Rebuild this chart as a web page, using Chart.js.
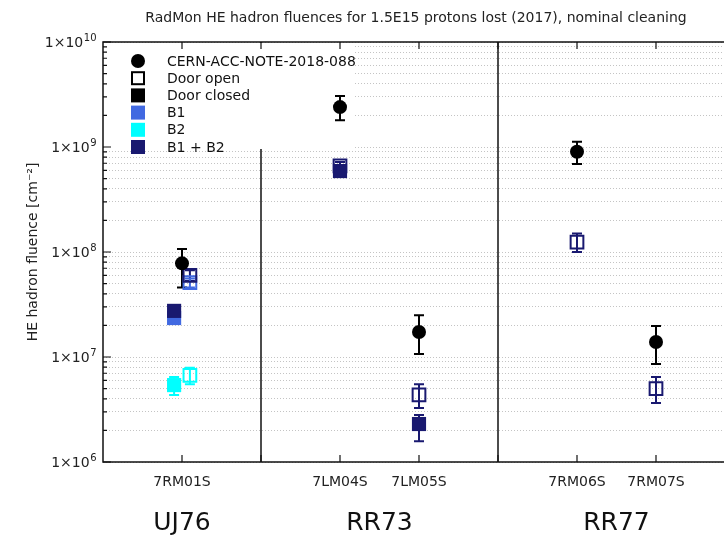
<!DOCTYPE html>
<html>
<head>
<meta charset="utf-8">
<script src="https://cdn.jsdelivr.net/npm/chart.js@4.4.0/dist/chart.umd.min.js"></script>
<style>
    html, body { margin: 0; padding: 0; background: #fff; overflow: hidden; }
    #wrap { position: relative; width: 832px; height: 536px; }
</style>
</head>
<body>
<div id="wrap"><canvas id="myChart"></canvas></div>
<script>
// x positions of the RadMon stations, and the areas they belong to
var stationPos = [1, 2, 3, 4, 5, 6, 7];
var stationLabels = ['7RM01S', '', '7LM04S', '7LM05S', '', '7RM06S', '7RM07S'];
var areaPos = [1, 3.5, 6.5];
var areaLabels = ['UJ76', 'RR73', 'RR77'];
var dividerPos = [2, 5];
var yMajorTicks = [1e6, 1e7, 1e8, 1e9, 1e10];
var yTickExp = ['6', '7', '8', '9', '10'];

var chartTitle = 'RadMon HE hadron fluences for 1.5E15 protons lost (2017), nominal cleaning';

// CERN-ACC-NOTE-2018-088
var noteX = [1, 3, 4, 6, 7];
var noteY = [7.8e7, 2.4e9, 1.73e7, 9.0e8, 1.39e7];
var noteLo = [4.6e7, 1.8e9, 1.07e7, 6.9e8, 8.6e6];
var noteHi = [1.07e8, 3.06e9, 2.5e7, 1.12e9, 1.97e7];

// door open
var openB1X = [1.1];
var openB1Y = [5.1e7];
var openB1Lo = [4.6e7];
var openB1Hi = [5.6e7];
var openB2X = [1.1];
var openB2Y = [6.7e6];
var openB2Lo = [5.5e6];
var openB2Hi = [7.9e6];
var openB12X = [1.1, 3, 4, 6, 7];
var openB12Y = [6.0e7, 6.6e8, 4.35e6, 1.24e8, 5.0e6];
var openB12Lo = [5.3e7, 6.0e8, 3.27e6, 1.0e8, 3.65e6];
var openB12Hi = [6.7e7, 7.2e8, 5.5e6, 1.5e8, 6.45e6];

// door closed
var closedB1X = [0.9];
var closedB1Y = [2.35e7];
var closedB1Lo = [2.1e7];
var closedB1Hi = [2.6e7];
var closedB2X = [0.9];
var closedB2Y = [5.4e6];
var closedB2Lo = [4.35e6];
var closedB2Hi = [6.45e6];
var closedB12X = [0.9, 3, 4];
var closedB12Y = [2.75e7, 5.9e8, 2.3e6];
var closedB12Lo = [2.45e7, 5.4e8, 1.58e6];
var closedB12Hi = [3.05e7, 6.4e8, 2.8e6];

var legendLabels = ['CERN-ACC-NOTE-2018-088', 'Door open', 'Door closed', 'B1', 'B2', 'B1 + B2'];

var B1 = '#4169e1', B2 = '#00ffff', B12 = '#191970';

function pts(xs, ys) {
    return xs.map(function (x, i) { return { x: x, y: ys[i] }; });
}

function openSet(label, xs, ys, lo, hi, col) {
    return {
        label: label, data: pts(xs, ys), errLo: lo, errHi: hi, errColor: col,
        pointStyle: 'rect', pointRadius: 9, pointHoverRadius: 9,
        backgroundColor: 'rgba(0,0,0,0)', borderColor: col, borderWidth: 2
    };
}

function closedSet(label, xs, ys, lo, hi, col) {
    return {
        label: label, data: pts(xs, ys), errLo: lo, errHi: hi, errColor: col,
        pointStyle: 'rect', pointRadius: 10, pointHoverRadius: 10,
        backgroundColor: col, borderColor: col, borderWidth: 0
    };
}

var frameAndExtras = {
    id: 'frameAndExtras',
    beforeDatasetsDraw: function (chart) {
        var ctx = chart.ctx, ca = chart.chartArea;
        var xs = chart.scales.x, ys = chart.scales.y;
        ctx.save();
        // area dividers
        ctx.strokeStyle = '#111';
        ctx.lineWidth = 1.5;
        dividerPos.forEach(function (d) {
            var px = xs.getPixelForValue(d);
            ctx.beginPath();
            ctx.moveTo(px, ca.top);
            ctx.lineTo(px, ca.bottom);
            ctx.stroke();
        });
        // legend (under the data marks)
        ctx.fillStyle = '#fff';
        ctx.fillRect(ca.left + 1, ca.top + 1, 250, 106);
        var styles = [
            { shape: 'circle', col: '#000' },
            { shape: 'open', col: '#000' },
            { shape: 'rect', col: '#000' },
            { shape: 'rect', col: B1 },
            { shape: 'rect', col: B2 },
            { shape: 'rect', col: B12 }
        ];
        ctx.font = '14px "DejaVu Sans"';
        ctx.textBaseline = 'middle';
        ctx.textAlign = 'left';
        legendLabels.forEach(function (txt, i) {
            var cy = ca.top + 19 + i * 17.2;
            var cx = ca.left + 35;
            var s = styles[i];
            if (s.shape === 'circle') {
                ctx.fillStyle = s.col;
                ctx.beginPath();
                ctx.arc(cx, cy, 7, 0, Math.PI * 2);
                ctx.fill();
            } else if (s.shape === 'open') {
                ctx.strokeStyle = s.col;
                ctx.lineWidth = 2;
                ctx.strokeRect(cx - 6, cy - 6, 12, 12);
            } else {
                ctx.fillStyle = s.col;
                ctx.fillRect(cx - 7, cy - 7, 14, 14);
            }
            ctx.fillStyle = '#111';
            ctx.fillText(txt, ca.left + 64, cy + 1);
        });
        // error bars
        chart.data.datasets.forEach(function (ds) {
            ctx.strokeStyle = ds.errColor;
            ctx.lineWidth = 2;
            ds.data.forEach(function (p, j) {
                var px = xs.getPixelForValue(p.x);
                var yl = ys.getPixelForValue(ds.errLo[j]);
                var yh = ys.getPixelForValue(ds.errHi[j]);
                ctx.beginPath();
                ctx.moveTo(px, yl); ctx.lineTo(px, yh);
                ctx.moveTo(px - 5, yl); ctx.lineTo(px + 5, yl);
                ctx.moveTo(px - 5, yh); ctx.lineTo(px + 5, yh);
                ctx.stroke();
            });
        });
        ctx.restore();
    },
    afterDatasetsDraw: function (chart) {
        var ctx = chart.ctx, ca = chart.chartArea;
        var xs = chart.scales.x, ys = chart.scales.y;
        ctx.save();
        // frame
        ctx.strokeStyle = '#111';
        ctx.lineWidth = 1.5;
        ctx.beginPath();
        ctx.moveTo(ca.right + 5, ca.top);
        ctx.lineTo(ca.left, ca.top);
        ctx.lineTo(ca.left, ca.bottom);
        ctx.lineTo(ca.right + 5, ca.bottom);
        ctx.stroke();
        // inward tick marks
        ctx.lineWidth = 1.2;
        ctx.beginPath();
        xs.ticks.forEach(function (t) {
            var px = xs.getPixelForValue(t.value);
            ctx.moveTo(px, ca.bottom); ctx.lineTo(px, ca.bottom - 7);
            ctx.moveTo(px, ca.top); ctx.lineTo(px, ca.top + 7);
        });
        ys.ticks.forEach(function (t) {
            var py = ys.getPixelForValue(t.value);
            var len = yMajorTicks.indexOf(t.value) >= 0 ? 8 : 4;
            ctx.moveTo(ca.left, py); ctx.lineTo(ca.left + len, py);
        });
        ctx.stroke();
        // y tick labels with superscript exponents
        ctx.fillStyle = '#222';
        ctx.textBaseline = 'alphabetic';
        ctx.textAlign = 'left';
        yMajorTicks.forEach(function (v, i) {
            var py = ys.getPixelForValue(v);
            ctx.font = '10px "DejaVu Sans"';
            var ew = ctx.measureText(yTickExp[i]).width;
            ctx.font = '14px "DejaVu Sans"';
            var bw = ctx.measureText('1×10').width;
            var x0 = ca.left - 7 - ew - bw;
            ctx.fillText('1×10', x0, py + 5);
            ctx.font = '10px "DejaVu Sans"';
            ctx.fillText(yTickExp[i], x0 + bw + 0.5, py - 1);
        });
        // title
        ctx.font = '14px "DejaVu Sans"';
        ctx.textAlign = 'center';
        ctx.textBaseline = 'middle';
        ctx.fillText(chartTitle, (ca.left + ca.right) / 2 - 3, 18);
        ctx.restore();
    }
};

Chart.defaults.font.family = '"DejaVu Sans", sans-serif';
Chart.defaults.color = '#222';

var ctx = document.getElementById('myChart').getContext('2d');
var myChart = new Chart(ctx, {
    type: 'scatter',
    data: {
        datasets: [
            {
                label: 'CERN-ACC-NOTE-2018-088', data: pts(noteX, noteY), errLo: noteLo, errHi: noteHi, errColor: '#000',
                pointStyle: 'circle', pointRadius: 7, pointHoverRadius: 7,
                backgroundColor: '#000', borderColor: '#000', borderWidth: 0
            },
            closedSet('Door closed B1 + B2', closedB12X, closedB12Y, closedB12Lo, closedB12Hi, B12),
            closedSet('Door closed B1', closedB1X, closedB1Y, closedB1Lo, closedB1Hi, B1),
            closedSet('Door closed B2', closedB2X, closedB2Y, closedB2Lo, closedB2Hi, B2),
            openSet('Door open B1 + B2', openB12X, openB12Y, openB12Lo, openB12Hi, B12),
            openSet('Door open B1', openB1X, openB1Y, openB1Lo, openB1Hi, B1),
            openSet('Door open B2', openB2X, openB2Y, openB2Lo, openB2Hi, B2)
        ]
    },
    options: {
        responsive: true,
        maintainAspectRatio: false,
        animation: false,
        layout: { padding: { left: 0, right: 97, top: 42, bottom: 0 } },
        plugins: {
            legend: { display: false },
            tooltip: { enabled: false },
            title: { display: false }
        },
        scales: {
            x: {
                type: 'linear',
                position: 'bottom',
                min: 0,
                max: 8,
                weight: 0,
                grid: { display: false },
                border: { display: false },
                afterBuildTicks: function (scale) {
                    scale.ticks = stationPos.map(function (v) { return { value: v }; });
                },
                afterFit: function (scale) { scale.height = 36; },
                ticks: {
                    autoSkip: false,
                    maxRotation: 0,
                    padding: 4,
                    font: { size: 14 },
                    callback: function (v) {
                        var i = stationPos.indexOf(v);
                        return i >= 0 ? stationLabels[i] : '';
                    }
                }
            },
            xg: {
                type: 'linear',
                position: 'bottom',
                min: 0,
                max: 8,
                weight: 1,
                grid: { display: false },
                border: { display: false },
                afterBuildTicks: function (scale) {
                    scale.ticks = areaPos.map(function (v) { return { value: v }; });
                },
                afterFit: function (scale) { scale.height = 38; },
                ticks: {
                    autoSkip: false,
                    maxRotation: 0,
                    padding: 2,
                    font: { size: 25 },
                    color: '#111',
                    callback: function (v) {
                        var i = areaPos.indexOf(v);
                        return i >= 0 ? areaLabels[i] : '';
                    }
                }
            },
            y: {
                type: 'logarithmic',
                position: 'left',
                min: 1e6,
                max: 1e10,
                grid: { display: true, drawTicks: false, color: '#c4c4c4', lineWidth: 1 },
                border: { display: false, dash: [1, 2] },
                afterBuildTicks: function (scale) {
                    var t = [];
                    for (var i = 0; i < yMajorTicks.length - 1; i++) {
                        for (var k = 1; k < 10; k++) t.push({ value: yMajorTicks[i] * k });
                    }
                    t.push({ value: yMajorTicks[yMajorTicks.length - 1] });
                    scale.ticks = t;
                },
                afterFit: function (scale) { scale.width = 103; },
                ticks: {
                    autoSkip: false,
                    padding: 7,
                    font: { size: 14 },
                    callback: function () { return ''; }
                },
                title: {
                    display: true,
                    text: 'HE hadron fluence [cm⁻²]',
                    font: { size: 14 },
                    color: '#222',
                    padding: { top: 25, bottom: 0 }
                }
            }
        }
    },
    plugins: [frameAndExtras]
});
</script>
</body>
</html>
